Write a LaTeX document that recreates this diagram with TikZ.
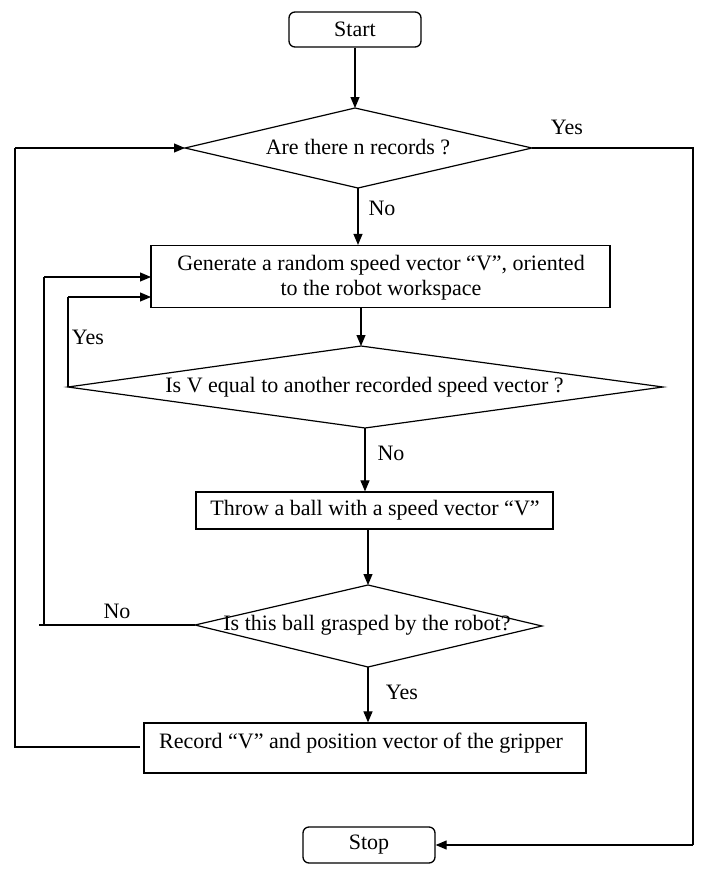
\documentclass[tikz,border=0pt]{standalone}
\usepackage{fontspec}
\setmainfont{Liberation Serif}
\usetikzlibrary{arrows.meta}
\begin{document}
\begin{tikzpicture}[x=1pt,y=-1pt,
  every node/.style={font=\fontsize{22}{25}\selectfont, inner sep=0pt},
  line/.style={draw=black, line width=1.1pt},
  arr/.style={line, -{Triangle[length=11pt,width=9pt]}},
  term/.style={draw=black, line width=1.3pt, rounded corners=6pt},
  proc/.style={draw=black, line width=1.2pt},
  dia/.style={draw=black, line width=1.2pt},
  lbl/.style={font=\fontsize{22}{25}\selectfont}
]
\useasboundingbox (0,0) rectangle (709,871);

% terminals
\node[term, minimum width=132pt, minimum height=35pt] (start) at (355,29.5) {Start};
\node[term, minimum width=132pt, minimum height=36pt] (stop) at (369,845) {Stop};

% diamond 1
\coordinate (d1t) at (355,108);
\coordinate (d1r) at (532,148);
\coordinate (d1b) at (358,188);
\coordinate (d1l) at (185,148);
\draw[dia] (d1t) -- (d1r) -- (d1b) -- (d1l) -- cycle;
\node (d1txt) at (358,147) {Are there n records ?};

% box 2
\node[proc, minimum width=459pt, minimum height=62pt] (b2) at (380.5,276.5) {};
\node[align=center] (b2txt) at (381,278) {Generate a random speed vector “V”, oriented\\to the robot workspace};

% diamond 2
\coordinate (d2t) at (361,346);
\coordinate (d2r) at (663,387);
\coordinate (d2b) at (365,428);
\coordinate (d2l) at (68,387);
\draw[dia] (d2t) -- (d2r) -- (d2b) -- (d2l) -- cycle;
\node (d2txt) at (364.5,387) {Is V equal to another recorded speed vector ?};

% box 3
\node[proc, minimum width=357pt, minimum height=37pt] (b3) at (374.5,510.5) {};
\node (b3txt) at (375,510) {Throw a ball with a speed vector “V”};

% diamond 3
\coordinate (d3t) at (368,585);
\coordinate (d3r) at (542,626);
\coordinate (d3b) at (368,667);
\coordinate (d3l) at (195,625);
\draw[dia] (d3t) -- (d3r) -- (d3b) -- (d3l) -- cycle;
\node (d3txt) at (367,625) {Is this ball grasped by the robot?};

% box 4
\node[proc, minimum width=442pt, minimum height=50pt] (b4) at (365,748) {};
\node (b4txt) at (361,743) {Record “V” and position vector of the gripper};

% helper coordinates
\coordinate (rc1) at (693,148);
\coordinate (rc2) at (693,845);
\coordinate (in1) at (151,277);
\coordinate (in2) at (151,297);
\coordinate (ic1) at (68,297);
\coordinate (oc1) at (44,625);
\coordinate (oc2) at (44,277);
\coordinate (stub) at (39,625);
\coordinate (lc1) at (15,747);
\coordinate (lc2) at (15,148);
\coordinate (b4l) at (140,747);

% connectors
\draw[arr] (start.south) -- (d1t);
\draw[line] (d1r) -- (rc1) -- (rc2);
\draw[arr] (rc2) -- (stop.east);
\draw[arr] (d1b) -- (d1b |- b2.north);
\draw[arr] (b2.south -| d2t) -- (d2t);
\draw[line] (d2l) -- (ic1);
\draw[arr] (ic1) -- (in2);
\draw[arr] (d2b) -- (d2b |- b3.north);
\draw[arr] (b3.south -| d3t) -- (d3t);
\draw[line] (d3l) -- (stub);
\draw[line] (oc1) -- (oc2);
\draw[arr] (oc2) -- (in1);
\draw[arr] (d3b) -- (d3b |- b4.north);
\draw[line] (b4l) -- (lc1) -- (lc2);
\draw[arr] (lc2) -- (d1l);

% labels
\node[lbl] (y1) at (567,127) {Yes};
\node[lbl] (n1) at (382,208) {No};
\node[lbl] (y2) at (88,337) {Yes};
\node[lbl] (n2) at (391,453) {No};
\node[lbl] (n3) at (117,611) {No};
\node[lbl] (y3) at (402,692) {Yes};
\end{tikzpicture}
\end{document}
